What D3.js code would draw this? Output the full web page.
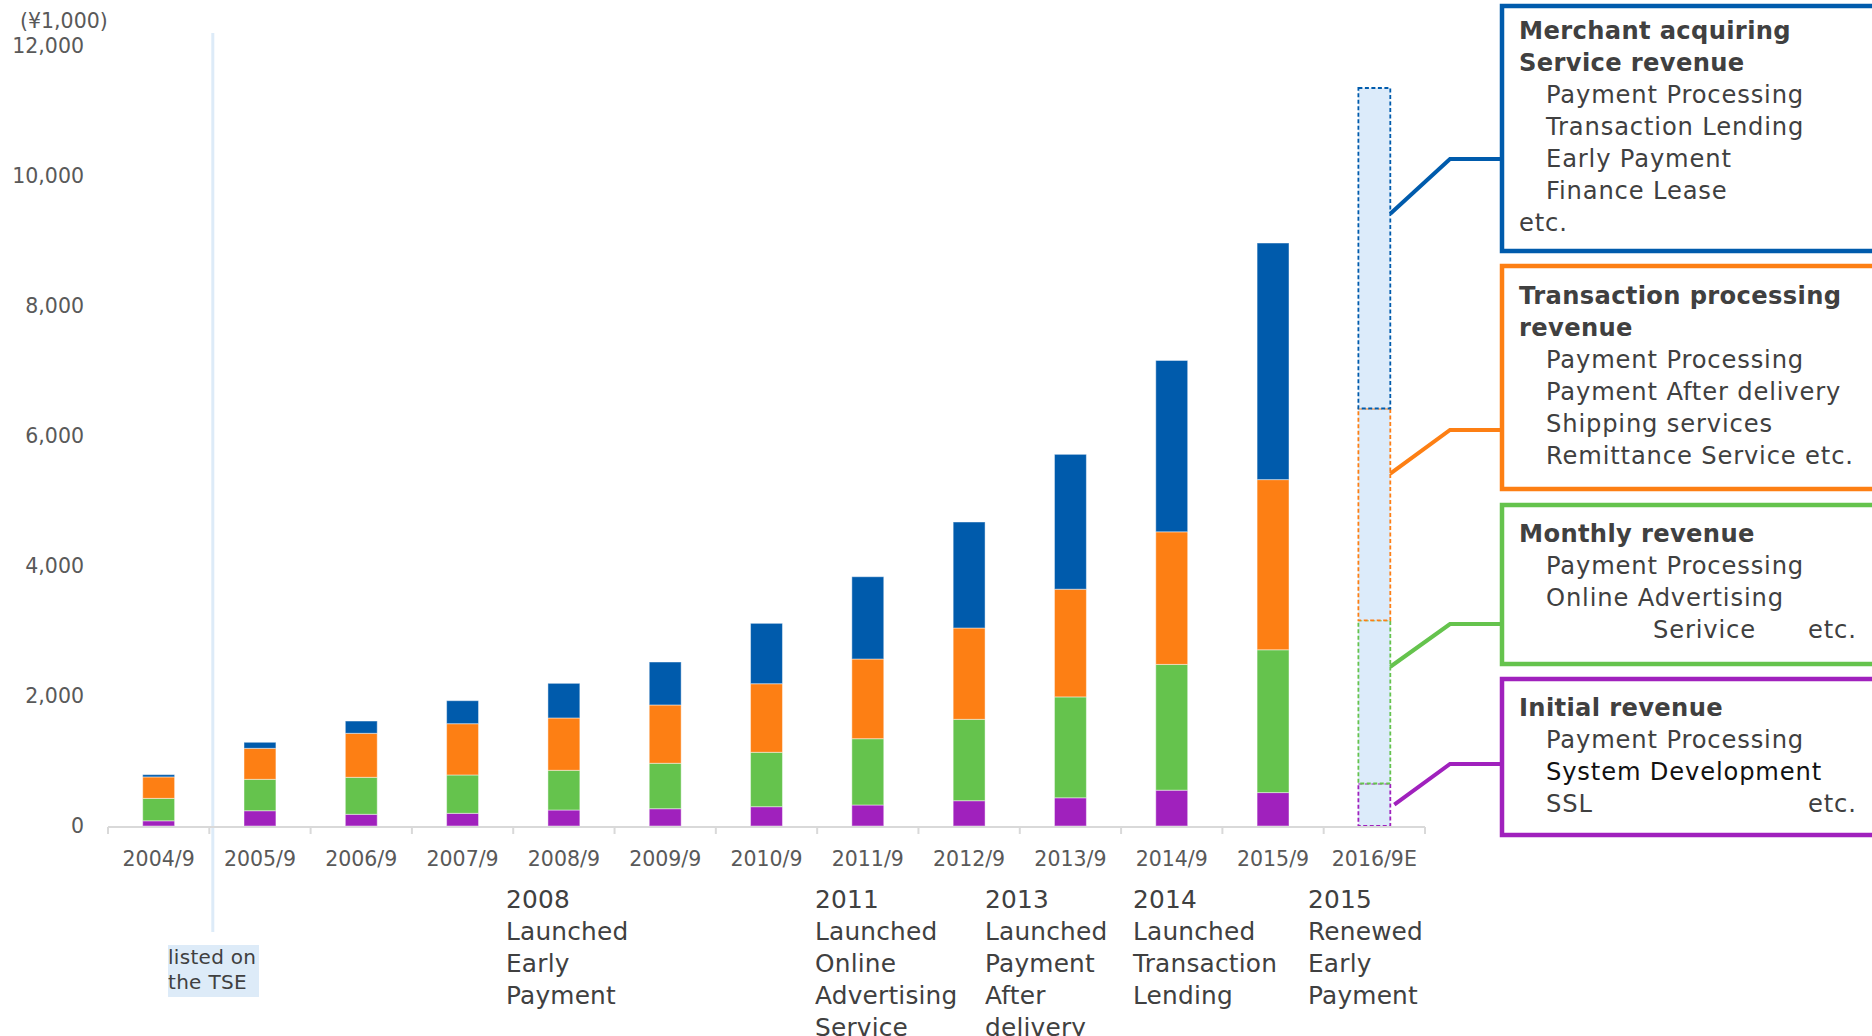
<!DOCTYPE html>
<html>
<head>
<meta charset="utf-8">
<script src="https://cdn.jsdelivr.net/npm/d3@7"></script>
<style>
  html, body { margin: 0; padding: 0; background: #fff; }
  svg { display: block; font-family: "DejaVu Sans", Verdana, sans-serif; }
</style>
</head>
<body>
<div id="chart"></div>
<script>
const width  = 1872;
const height = 1036;

// Revenue by fiscal year (¥1,000)
const categories     = ["2004/9", "2005/9", "2006/9", "2007/9", "2008/9", "2009/9", "2010/9",
                        "2011/9", "2012/9", "2013/9", "2014/9", "2015/9", "2016/9E"];
const initialRev     = [80, 235, 180, 195, 246, 266, 297, 323, 389, 434, 551, 514];
const monthlyRev     = [345, 483, 569, 590, 611, 699, 837, 1020, 1252, 1552, 1935, 2197];
const transactionRev = [330, 477, 677, 789, 805, 897, 1055, 1226, 1405, 1657, 2040, 2618];
const merchantRev    = [35, 93, 189, 354, 533, 661, 929, 1266, 1631, 2075, 2636, 3640];
// 2016/9E forecast, bottom to top: initial, monthly, transaction, merchant
const forecastRev    = [654, 2508, 3261, 4931];
// value on the forecast bar where each connector leaves it
const connectorAt    = [330, 2450, 5420, 9420];

const yTicks = [0, 2000, 4000, 6000, 8000, 10000, 12000];

const seriesKeys = ["initial", "monthly", "transaction", "merchant"];
const colours = {
  initial: "#a021bd",
  monthly: "#65c34d",
  transaction: "#fd7f14",
  merchant: "#005bac"
};

const milestones = [
  { year: "2008", lines: ["2008", "Launched", "Early", "Payment"] },
  { year: "2011", lines: ["2011", "Launched", "Online", "Advertising", "Service"] },
  { year: "2013", lines: ["2013", "Launched", "Payment", "After", "delivery"] },
  { year: "2014", lines: ["2014", "Launched", "Transaction", "Lending"] },
  { year: "2015", lines: ["2015", "Renewed", "Early", "Payment"] }
];
const milestoneX = { "2008": 506, "2011": 815, "2013": 985, "2014": 1133, "2015": 1308 };

const legendBoxes = [
  { key: "merchant", top: 6, bottom: 251, first: 30, elbowY: 159,
    lines: [
      { t: "Merchant acquiring", bold: true },
      { t: "Service revenue", bold: true },
      { t: "Payment Processing", indent: true },
      { t: "Transaction Lending", indent: true },
      { t: "Early Payment", indent: true },
      { t: "Finance Lease", indent: true },
      { t: "etc." }
    ] },
  { key: "transaction", top: 266, bottom: 489, first: 295, elbowY: 430,
    lines: [
      { t: "Transaction processing", bold: true },
      { t: "revenue", bold: true },
      { t: "Payment Processing", indent: true },
      { t: "Payment After delivery", indent: true },
      { t: "Shipping services", indent: true },
      { t: "Remittance Service etc.", indent: true }
    ] },
  { key: "monthly", top: 505, bottom: 664, first: 533, elbowY: 624,
    lines: [
      { t: "Monthly revenue", bold: true },
      { t: "Payment Processing", indent: true },
      { t: "Online Advertising", indent: true },
      { t: "Serivice", x: 1653, etc: true }
    ] },
  { key: "initial", top: 679, bottom: 835, first: 707, elbowY: 764,
    lines: [
      { t: "Initial revenue", bold: true },
      { t: "Payment Processing", indent: true },
      { t: "System Development", indent: true, dark: true },
      { t: "SSL", indent: true, etc: true }
    ] }
];

const margin = { left: 108, right: 1425, top: 46, bottom: 826 };
const textGrey = "#404040";
const axisGrey = "#595959";

const svg = d3.select("#chart").append("svg")
    .attr("width", width)
    .attr("height", height);

const x = d3.scaleBand()
    .domain(categories)
    .range([margin.left, margin.right])
    .padding(0);

const y = d3.scaleLinear()
    .domain([0, 12000])
    .range([margin.bottom, margin.top]);

const barW = x.bandwidth() * 0.315;
const barX = c => x(c) + (x.bandwidth() - barW) / 2;

// "listed on the TSE" marker line
svg.append("line")
    .attr("x1", x(categories[1]) + 3.5).attr("x2", x(categories[1]) + 3.5)
    .attr("y1", 33).attr("y2", 932)
    .attr("stroke", "#ddebf8")
    .attr("stroke-width", 3);

// Stacked actual bars
const table = categories.slice(0, 12).map((c, i) => ({
  cat: c,
  initial: initialRev[i],
  monthly: monthlyRev[i],
  transaction: transactionRev[i],
  merchant: merchantRev[i]
}));

const stack = d3.stack().keys(seriesKeys);
const layers = stack(table);

svg.append("g").selectAll("g")
  .data(layers).enter()
  .append("g")
    .attr("fill", d => colours[d.key])
  .selectAll("rect")
  .data(d => d).enter()
  .append("rect")
    .attr("x", d => barX(d.data.cat))
    .attr("y", d => y(d[1]))
    .attr("width", barW)
    .attr("height", d => y(d[0]) - y(d[1]))
    .attr("stroke", "#ffffff")
    .attr("stroke-opacity", 0.45)
    .attr("stroke-width", 1);

// Forecast bar: light fill, dashed outline in series colour
const forecastRow = { cat: categories[12] };
seriesKeys.forEach((k, i) => forecastRow[k] = forecastRev[i]);
const fLayers = stack([forecastRow]);

svg.append("g").selectAll("rect")
  .data(fLayers).enter()
  .append("rect")
    .attr("x", barX(categories[12]))
    .attr("y", d => y(d[0][1]))
    .attr("width", barW)
    .attr("height", d => y(d[0][0]) - y(d[0][1]))
    .attr("fill", "#dcebfa")
    .attr("stroke", d => colours[d.key])
    .attr("stroke-width", 1.8)
    .attr("stroke-dasharray", "4,2.5");

// Y axis labels (no axis line, no grid)
svg.append("g").selectAll("text")
  .data(yTicks).enter()
  .append("text")
    .attr("x", 84)
    .attr("y", d => y(d))
    .attr("dy", "0.35em")
    .attr("text-anchor", "end")
    .attr("font-size", 20.5)
    .attr("fill", axisGrey)
    .text(d3.format(","));

svg.append("text")
    .attr("x", 20).attr("y", 21).attr("dy", "0.35em")
    .attr("font-size", 20.5)
    .attr("fill", axisGrey)
    .text("(¥1,000)");

// X axis
svg.append("line")
    .attr("x1", margin.left).attr("x2", margin.right)
    .attr("y1", margin.bottom + 1).attr("y2", margin.bottom + 1)
    .attr("stroke", "#d9d9d9").attr("stroke-width", 2);

const tickEdges = categories.map(c => x(c)).concat([margin.right]);
svg.append("g").selectAll("line")
  .data(tickEdges).enter()
  .append("line")
    .attr("x1", d => d).attr("x2", d => d)
    .attr("y1", margin.bottom + 1).attr("y2", margin.bottom + 8)
    .attr("stroke", "#d9d9d9").attr("stroke-width", 2);

svg.append("g").selectAll("text")
  .data(categories).enter()
  .append("text")
    .attr("x", d => x(d) + x.bandwidth() / 2)
    .attr("y", 859)
    .attr("dy", "0.35em")
    .attr("text-anchor", "middle")
    .attr("font-size", 20.5)
    .attr("fill", axisGrey)
    .text(d => d);

// listed on the TSE label
svg.append("rect")
    .attr("x", 168).attr("y", 945)
    .attr("width", 91).attr("height", 52)
    .attr("fill", "#ddebf8");
svg.append("text")
    .attr("x", 168).attr("y", 957).attr("dy", "0.35em")
    .attr("font-size", 20).attr("letter-spacing", 0.3).attr("fill", textGrey)
    .text("listed on");
svg.append("text")
    .attr("x", 168).attr("y", 982).attr("dy", "0.35em")
    .attr("font-size", 20).attr("letter-spacing", 0.3).attr("fill", textGrey)
    .text("the TSE");

// Milestones under the axis
milestones.forEach(m => {
  const t = svg.append("text")
      .attr("font-size", 24.8)
      .attr("letter-spacing", 0.2)
      .attr("fill", textGrey);
  m.lines.forEach((line, i) => {
    t.append("tspan")
        .attr("x", milestoneX[m.year])
        .attr("y", 899 + i * 32)
        .attr("dy", "0.35em")
        .text(line);
  });
});

// Legend boxes with connectors
const boxLeft = 1502;
const fx = barX(categories[12]) + barW;

legendBoxes.forEach(b => {
  const col = colours[b.key];
  const startY = y(connectorAt[seriesKeys.indexOf(b.key)]);

  svg.append("polyline")
      .attr("points", [[fx + (b.key === "initial" ? 4 : 0), startY], [1450, b.elbowY], [boxLeft, b.elbowY]].join(" "))
      .attr("fill", "none")
      .attr("stroke", col)
      .attr("stroke-width", 4);

  svg.append("rect")
      .attr("x", boxLeft).attr("y", b.top)
      .attr("width", 420).attr("height", b.bottom - b.top)
      .attr("fill", "#fff")
      .attr("stroke", col)
      .attr("stroke-width", 4.5);

  b.lines.forEach((line, i) => {
    const ly = b.first + 1 + i * 31.9;
    svg.append("text")
        .attr("x", line.x != null ? line.x : (line.indent ? 1546 : 1519))
        .attr("y", ly)
        .attr("dy", "0.35em")
        .attr("font-size", 24.2)
        .attr("font-weight", line.bold ? "bold" : "normal")
        .attr("letter-spacing", line.bold ? 0.35 : 0.85)
        .attr("fill", line.dark ? "#111" : textGrey)
        .text(line.t);
    if (line.etc) {
      svg.append("text")
          .attr("x", 1808)
          .attr("y", ly)
          .attr("dy", "0.35em")
          .attr("font-size", 24.2)
          .attr("letter-spacing", 0.85)
          .attr("fill", textGrey)
          .text("etc.");
    }
  });
});
</script>
</body>
</html>
